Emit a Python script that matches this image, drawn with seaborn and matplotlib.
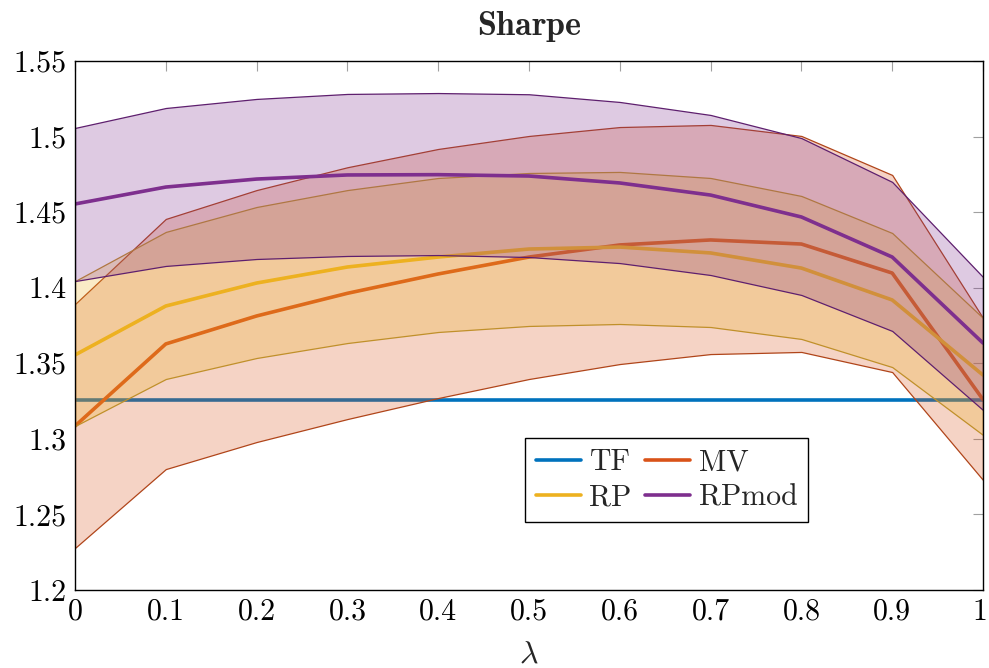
import numpy as np
import pandas as pd
import matplotlib
matplotlib.use("Agg")
import matplotlib.pyplot as plt
import matplotlib.transforms as mtransforms
import seaborn as sns
from matplotlib.ticker import FuncFormatter, FixedLocator
from matplotlib.lines import Line2D

lam = [0.0, 0.1, 0.2, 0.3, 0.4, 0.5, 0.6, 0.7, 0.8, 0.9, 1.0]
tf = [1.3257] * 11
mv = [1.3085, 1.3628, 1.3813, 1.3963, 1.4091, 1.4203, 1.4283, 1.4316, 1.4289, 1.4097, 1.3260]
mv_hi = [1.3892, 1.4455, 1.4646, 1.4797, 1.4918, 1.5004, 1.5063, 1.5077, 1.5004, 1.4746, 1.3800]
mv_lo = [1.2278, 1.2800, 1.2979, 1.3131, 1.3270, 1.3396, 1.3495, 1.3561, 1.3575, 1.3442, 1.2728]
rp = [1.3555, 1.3879, 1.4031, 1.4137, 1.4203, 1.4256, 1.4269, 1.4230, 1.4130, 1.3919, 1.3422]
rp_hi = [1.4044, 1.4369, 1.4534, 1.4646, 1.4726, 1.4759, 1.4766, 1.4726, 1.4607, 1.4362, 1.3800]
rp_lo = [1.3085, 1.3396, 1.3535, 1.3634, 1.3707, 1.3747, 1.3760, 1.3740, 1.3661, 1.3475, 1.3026]
rpm = [1.4554, 1.4666, 1.4719, 1.4746, 1.4748, 1.4739, 1.4693, 1.4613, 1.4468, 1.4203, 1.3634]
rpm_hi = [1.5057, 1.5189, 1.5249, 1.5282, 1.5288, 1.5280, 1.5229, 1.5143, 1.4990, 1.4700, 1.4071]
rpm_lo = [1.4044, 1.4144, 1.4190, 1.4210, 1.4216, 1.4203, 1.4163, 1.4084, 1.3952, 1.3714, 1.3191]
yticks = [1.2, 1.25, 1.3, 1.35, 1.4, 1.45, 1.5, 1.55]

names = ["TF", "MV", "RP", "RPmod"]
colors = {"TF": "#0072BD", "MV": "#D95319", "RP": "#EDB120", "RPmod": "#7E2F8E"}
edges = {"MV": "#B0451A", "RP": "#C0902A", "RPmod": "#5E1F6E"}

sns.set_theme(style="white")
plt.rcParams["font.family"] = ["cmr10", "DejaVu Serif"]
plt.rcParams["mathtext.fontset"] = "cm"
plt.rcParams["axes.formatter.use_mathtext"] = True
plt.rcParams["axes.unicode_minus"] = False

df = pd.DataFrame({
    "lam": lam * 4,
    "val": tf + mv + rp + rpm,
    "series": sum([[n] * len(lam) for n in names], []),
})

fig = plt.figure(figsize=(9.89, 6.68), dpi=100)
ax = fig.add_axes([75 / 989, 1 - 590 / 668, 908 / 989, 529 / 668])

sns.lineplot(data=df, x="lam", y="val", hue="series", hue_order=names,
             palette=colors, linewidth=2.6, ax=ax, legend=False)
for i, ln in enumerate(ax.lines):
    ln.set_zorder(2 + i)

bands = [("MV", mv_lo, mv_hi, 3.5), ("RP", rp_lo, rp_hi, 4.5), ("RPmod", rpm_lo, rpm_hi, 5.5)]
for n, lo, hi, z in bands:
    face = matplotlib.colors.to_rgba(colors[n], 0.25)
    ax.fill_between(lam, lo, hi, facecolor=face, edgecolor=edges[n],
                    linewidth=0.9, zorder=z)

ax.set_xlim(0, 1)
ax.set_ylim(1.2, 1.55)
ax.xaxis.set_major_locator(FixedLocator(lam))
ax.yaxis.set_major_locator(FixedLocator(yticks))
fmt = FuncFormatter(lambda v, p: "%g" % round(v, 3))
ax.xaxis.set_major_formatter(fmt)
ax.yaxis.set_major_formatter(fmt)
ax.tick_params(axis="both", which="major", direction="in", length=7,
               width=0.8, color="#a0a0a0", labelsize=21.5,
               top=True, right=True, pad=6, labelcolor="black")
for s in ax.spines.values():
    s.set_color("black")
    s.set_linewidth(1.0)
    s.set_zorder(8)

fig.canvas.draw()
last = ax.get_xticklabels()[-1]
last.set_transform(last.get_transform() +
                   mtransforms.ScaledTranslation(-3 / 100, 0, fig.dpi_scale_trans))

ax.set_xlabel(r"$\lambda$", fontsize=23, labelpad=11)
ax.set_ylabel("")
ax.set_title(r"$\mathbf{Sharpe}$", fontsize=24.5, pad=19)

order = ["TF", "RP", "MV", "RPmod"]
handles = [Line2D([], [], color=colors[n], lw=2.6) for n in order]
leg = ax.legend(handles, order, ncol=2, loc="lower left",
                bbox_to_anchor=(450 / 908, 68 / 529), borderaxespad=0,
                fontsize=21.5, frameon=True, fancybox=False, framealpha=1,
                edgecolor="black", handlelength=1.5, handletextpad=0.3,
                columnspacing=0.45, labelspacing=0.25, borderpad=0.36)
leg.get_frame().set_linewidth(1.0)
leg.set_zorder(10)

fig.savefig("out.png", dpi=100)
